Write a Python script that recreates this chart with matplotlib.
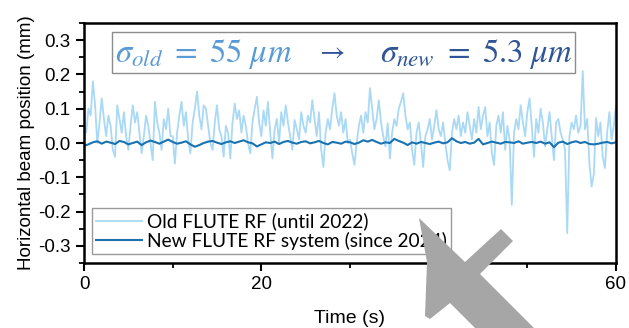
import numpy as np
import matplotlib
matplotlib.use("Agg")
import matplotlib.pyplot as plt
from matplotlib.patches import Rectangle, Polygon
from matplotlib.ticker import MultipleLocator

# old FLUTE RF, one sample every 0.25 s (mm)
old_rf = [
    0.05, 0.03, 0.10, 0.08, 0.18, 0.11, 0.00, 0.06, 0.13, 0.07, 0.02, 0.08, 0.05, -0.02, -0.04, 0.11, 0.07, 0.03, 0.09, 0.02,
    -0.02, 0.05, 0.11, 0.06, 0.09, 0.03, -0.03, 0.02, 0.08, 0.05, 0.00, -0.05, 0.12, 0.06, 0.03, -0.02, 0.07, 0.04, 0.10, 0.02,
    0.02, -0.06, 0.03, 0.08, 0.12, 0.05, 0.09, 0.01, -0.03, 0.06, 0.10, 0.15, 0.08, 0.04, 0.11, 0.10, 0.05, 0.00, -0.02, 0.06,
    0.11, 0.04, 0.02, -0.04, 0.05, 0.03, -0.045, 0.06, 0.115, 0.07, 0.095, 0.03, 0.08, 0.05, 0.00, -0.03, 0.06, 0.10, 0.135, 0.06,
    0.02, 0.095, 0.05, 0.12, 0.03, -0.045, 0.04, 0.07, 0.00, 0.09, 0.05, 0.11, 0.06, 0.02, -0.02, 0.067, 0.04, 0.01, 0.09, 0.05,
    0.03, 0.08, 0.06, 0.125, 0.07, 0.02, 0.09, -0.02, -0.07, 0.03, 0.07, 0.04, 0.10, 0.145, 0.08, 0.05, 0.09, 0.03, 0.07, 0.00,
    0.01, -0.03, -0.064, 0.00, 0.05, 0.08, 0.03, 0.09, 0.06, 0.16, 0.10, 0.04, 0.07, 0.125, 0.06, 0.02, -0.01, 0.058, -0.045, 0.03,
    0.07, 0.05, 0.10, 0.12, 0.145, 0.08, 0.04, 0.06, -0.02, -0.064, 0.03, 0.06, 0.00, -0.07, 0.02, 0.04, 0.07, 0.01, 0.05, 0.096,
    0.04, 0.02, 0.06, 0.00, -0.05, -0.08, 0.03, 0.07, 0.04, 0.08, 0.02, 0.06, 0.03, 0.09, 0.05, 0.01, 0.07, 0.03, 0.105, 0.04,
    0.08, 0.105, 0.02, 0.06, -0.03, -0.064, 0.05, 0.08, 0.03, 0.09, -0.02, 0.05, 0.01, -0.18, 0.03, 0.07, 0.04, 0.11, 0.06, 0.02,
    0.09, 0.13, 0.05, -0.04, 0.07, 0.03, 0.10, 0.06, -0.01, 0.04, 0.09, 0.02, -0.05, 0.06, 0.07, 0.03, 0.01, -0.02, -0.263, 0.02,
    0.06, 0.04, 0.08, 0.03, 0.05, 0.21, 0.04, 0.07, -0.06, -0.127, -0.09, 0.073, 0.02, 0.06, -0.04, -0.073, 0.03, 0.09, 0.01, 0.05, 0.11,
]
t_old = np.arange(len(old_rf)) * 0.25

# new FLUTE RF system, one sample every 0.5 s (mm)
new_rf = [
    -0.008, -0.004, 0.002, 0.005, -0.002, 0.004, 0.001, -0.003, 0.006, 0.003,
    -0.004, 0.000, 0.004, -0.006, 0.002, 0.007, 0.003, -0.002, 0.004, 0.010,
    0.003, -0.002, 0.001, 0.005, -0.004, -0.011, -0.006, 0.000, 0.004, 0.006,
    0.001, -0.003, 0.002, 0.005, 0.000, 0.004, 0.008, 0.002, -0.001, -0.010,
    -0.004, 0.002, 0.000, 0.004, -0.003, 0.003, 0.006, 0.001, -0.002, 0.003,
    0.005, -0.001, 0.002, 0.006, 0.000, -0.004, 0.003, 0.001, -0.002, 0.004,
    0.002, -0.003, 0.001, 0.008, 0.004, 0.009, 0.003, -0.002, 0.002, 0.000,
    0.012, 0.006, 0.001, -0.006, 0.002, -0.002, 0.003, 0.000, -0.003, 0.001,
    0.004, -0.001, 0.002, 0.014, 0.005, 0.000, 0.003, -0.002, 0.001, 0.012,
    -0.004, 0.000, 0.004, 0.001, -0.002, 0.003, 0.002, 0.000, 0.005, -0.002,
    0.001, 0.003, 0.000, 0.004, -0.002, 0.002, -0.012, 0.001, 0.004, -0.003,
    0.002, 0.005, 0.000, 0.003, -0.003, -0.004, -0.002, 0.001, 0.003, -0.001,
    0.002,
]
t_new = np.arange(len(new_rf)) * 0.5

labels = ["Old FLUTE RF (until 2022)", "New FLUTE RF system (since 2024)"]

plt.rcParams["font.family"] = ["Liberation Sans", "DejaVu Sans"]
plt.rcParams["mathtext.fontset"] = "stix"

fig = plt.figure(figsize=(6.29, 3.28), dpi=100)
ax = fig.add_axes([84 / 629, 65 / 328, 532 / 629, 240 / 328])

ax.plot(t_old, old_rf, color="#a9d9f5", lw=1.3, label=labels[0])
ax.plot(t_new, new_rf, color="#1a72b0", lw=1.5, label=labels[1])

ax.set_xlim(0, 60)
ax.set_ylim(-0.35, 0.35)
ax.xaxis.set_major_locator(MultipleLocator(20))
ax.xaxis.set_minor_locator(MultipleLocator(10))
ax.yaxis.set_major_locator(MultipleLocator(0.1))
ax.yaxis.set_minor_locator(MultipleLocator(0.05))
ax.yaxis.set_major_formatter(plt.FuncFormatter(lambda v, p: f"{v:.1f}" if abs(v) > 1e-9 else "0.0"))
ax.tick_params(which="major", direction="out", length=6, width=1.5, labelsize=13.5)
ax.tick_params(which="minor", direction="out", length=3.5, width=1.3)
for s in ax.spines.values():
    s.set_linewidth(1.8)

ax.set_xlabel("Time (s)", fontsize=14, labelpad=12)
ax.set_ylabel("Horizontal beam position (mm)", fontsize=13.5, labelpad=2)

leg = ax.legend(loc="lower left", bbox_to_anchor=(0.005, 0.015), frameon=True, fancybox=False,
                edgecolor="#808080", handlelength=2.4, handletextpad=0.25, borderpad=0.2,
                labelspacing=0.08, borderaxespad=0.3, prop={"family": "Lato", "size": 13.8})
leg.get_frame().set_linewidth(1.0)

# sigma box
ax.add_patch(Rectangle((0.053, 0.792), 0.870, 0.170, transform=ax.transAxes, fill=True,
                       facecolor="white", edgecolor="#8c8c8c", lw=1.0, zorder=3))
ax.text(0.058, 0.872, r"$\sigma_{old}\ =\ 55\ \mu m$", transform=ax.transAxes, fontsize=23.5,
        color="#5b9bd5", va="center", ha="left", zorder=4)
ax.text(0.462, 0.88, r"$\rightarrow$", transform=ax.transAxes, fontsize=20,
        color="#2f5597", va="center", ha="center", zorder=4)
ax.text(0.918, 0.872, r"$\sigma_{new}\ =\ 5.3\ \mu m$", transform=ax.transAxes, fontsize=23.5,
        color="#2f5597", va="center", ha="right", zorder=4)

# grey arrow drawn on top of the figure
arrow_px = [(419, 218), (465, 262), (501, 229), (513, 241), (480, 274), (540, 334),
            (481, 334), (450, 303), (430, 319), (425, 316), (427, 262)]
fig.add_artist(Polygon([(x / 629, 1 - y / 328) for x, y in arrow_px], closed=True,
                       transform=fig.transFigure, facecolor="#a6a6a6", edgecolor="none", zorder=10))

fig.savefig("out.png", dpi=100)
